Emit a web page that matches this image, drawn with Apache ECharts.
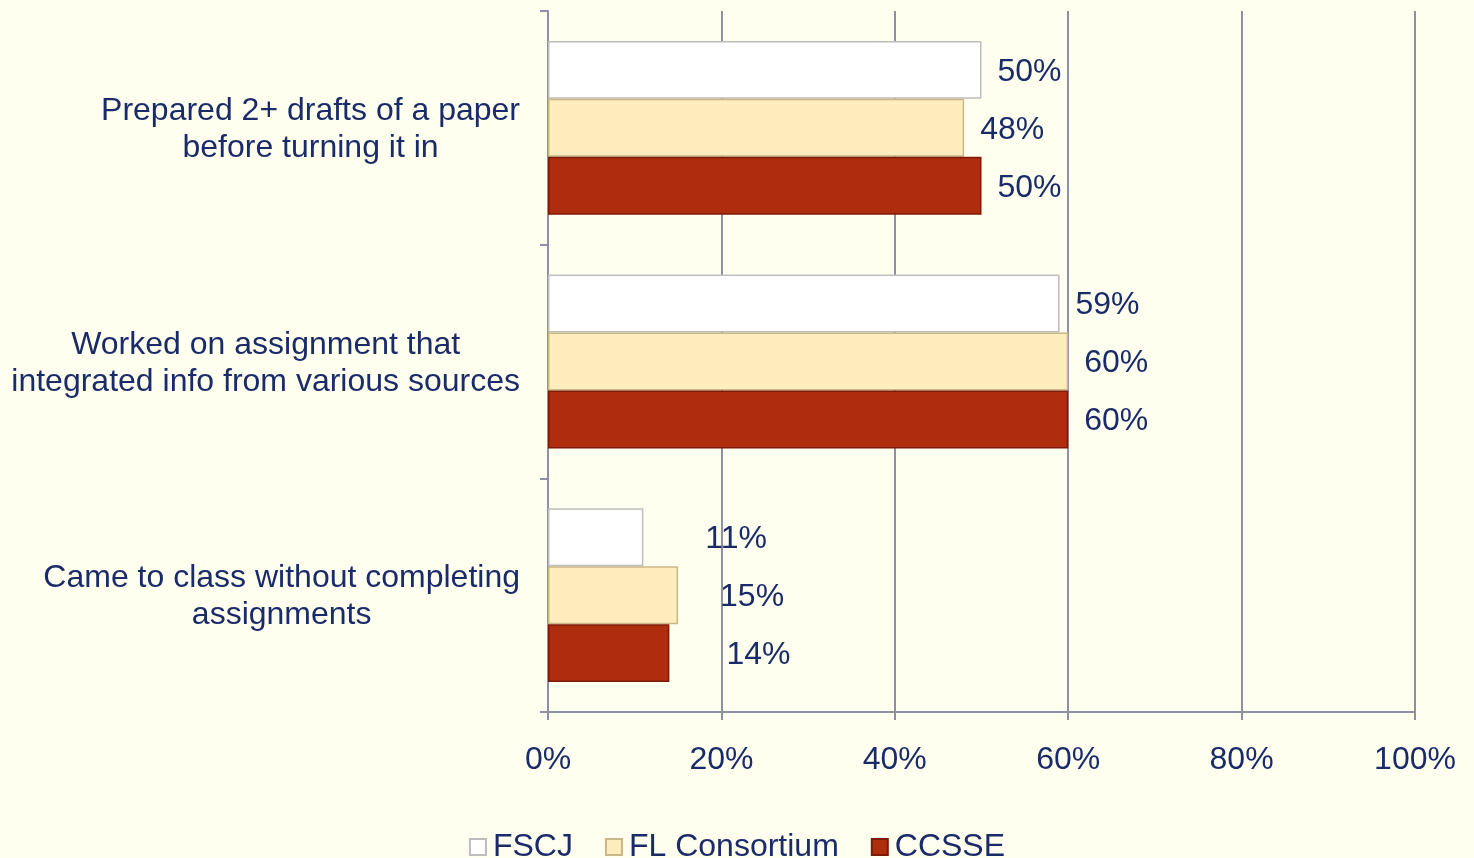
<!DOCTYPE html>
<html>
<head>
<meta charset="utf-8">
<style>
  html, body { margin: 0; padding: 0; background: #FFFFF0; }
  #chart { width: 1474px; height: 858px; }
</style>
<script src="https://cdn.jsdelivr.net/npm/echarts@6/dist/echarts.min.js"></script>
</head>
<body>
<div id="chart"></div>
<script>
const categories = [
  'Prepared 2+ drafts of a paper\nbefore turning it in',
  'Worked on assignment that\nintegrated info from various sources',
  'Came to class without completing\nassignments'
]
const fscj = [50, 59, 11]
const flConsortium = [48, 60, 15]
const ccsse = [50, 60, 14]
const xTicks = [0, 20, 40, 60, 80, 100]

const textColor = '#1A2B6A'
const gridColor = '#8E90A3'
const font = 'Liberation Sans, Arial, sans-serif'

// Excel nudged the bottom group's labels away from the bar ends
const labelNudge = {
  FSCJ: [0, 0, 46],
  'FL Consortium': [0, 0, 26],
  CCSSE: [0, 0, 41]
}

const chart = echarts.init(document.getElementById('chart'))

const makeSeries = (name, values, color, border) => ({
  name,
  type: 'bar',
  barGap: '0%',
  barCategoryGap: '25.6%',
  data: values.map((v, i) => ({
    value: v,
    label: { offset: [labelNudge[name][i], 2] }
  })),
  itemStyle: { color, borderColor: border, borderWidth: 1.5 },
  label: {
    show: true,
    position: 'right',
    distance: 16,
    formatter: '{c}%',
    color: textColor,
    fontSize: 32,
    fontFamily: font
  }
})

const option = {
  backgroundColor: '#FFFFF0',
  animation: false,
  grid: { left: 548, right: 59, top: 11, bottom: 146, containLabel: false },
  legend: {
    bottom: -10,
    left: 'center',
    itemWidth: 16,
    itemHeight: 16,
    itemGap: 32,
    icon: 'rect',
    textStyle: { color: textColor, fontSize: 32, fontFamily: font, padding: [0, 0, 0, 2] },
    data: ['FSCJ', 'FL Consortium', 'CCSSE']
  },
  xAxis: {
    type: 'value',
    min: 0,
    max: 100,
    interval: 20,
    axisLine: { show: true, lineStyle: { color: gridColor, width: 2 } },
    axisTick: { show: true, length: 8, lineStyle: { color: gridColor, width: 2 } },
    splitLine: { show: true, lineStyle: { color: gridColor, width: 2 } },
    axisLabel: {
      margin: 32,
      color: textColor,
      fontSize: 32,
      fontFamily: font,
      formatter: v => (xTicks.includes(v) ? v + '%' : '')
    }
  },
  yAxis: {
    type: 'category',
    inverse: true,
    data: categories,
    axisLine: { show: true, lineStyle: { color: gridColor, width: 2 } },
    axisTick: { show: true, length: 8, lineStyle: { color: gridColor, width: 2 } },
    axisLabel: {
      margin: 28,
      color: textColor,
      fontSize: 32,
      fontFamily: font,
      lineHeight: 37,
      formatter: v => v.split('\n').map(s => '{c|' + s + '}').join('\n'),
      rich: {
        c: { align: 'center', color: textColor, fontSize: 32, fontFamily: font, lineHeight: 37, padding: [4, 0, 0, 0] }
      }
    }
  },
  series: [
    makeSeries('FSCJ', fscj, '#FFFFFF', '#BDBDBD'),
    makeSeries('FL Consortium', flConsortium, '#FFEDBD', '#C9B787'),
    makeSeries('CCSSE', ccsse, '#AD2D0E', '#7D1A06')
  ]
}

chart.setOption(option)
window.addEventListener('resize', () => chart.resize())
</script>
</body>
</html>
